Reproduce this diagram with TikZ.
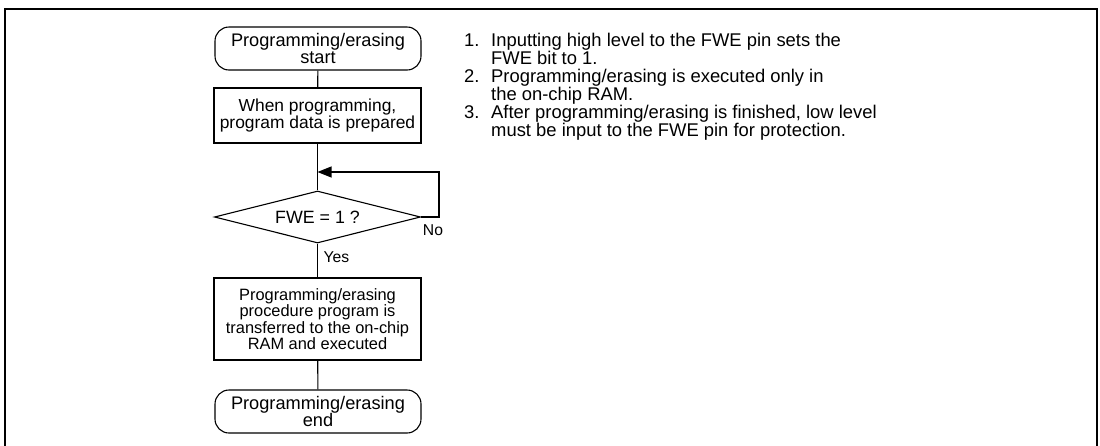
\documentclass[tikz,border=0pt]{standalone}
\usepackage{fontspec}
\setmainfont{Liberation Sans}
\usetikzlibrary{shapes.geometric,arrows.meta}
\begin{document}
\begin{tikzpicture}[x=1pt,y=-1pt,
  flow/.style={draw=black,line width=1.1pt},
  term/.style={flow,rectangle,rounded corners=14pt,minimum width=206pt,minimum height=43pt,inner sep=0pt,align=center,font=\fontsize{18.2}{16.5}\selectfont},
  procbox/.style={flow,rectangle,minimum width=207pt,inner sep=0pt,align=center},
  decision/.style={flow,diamond,shape aspect=4,minimum width=206pt,minimum height=52pt,inner sep=0pt,font=\fontsize{17.8}{18}\selectfont},
  link/.style={line width=1.1pt},
  lbl/.style={inner sep=0pt,font=\fontsize{15.7}{16}\selectfont},
  frameline/.style={line width=2.5pt}]
\useasboundingbox (0,0) rectangle (1100,445);
\draw[frameline] (5,452) -- (5,9) -- (1097,9) -- (1097,452);
\node[term] (start) at (318,48.5) {Programming/erasing\\start};
\node[procbox,minimum height=55pt,font=\fontsize{17.4}{16}\selectfont] (prep) at (317.5,115.5) {When programming,\\program data is prepared};
\coordinate (join) at (317.5,172);
\node[decision] (fwe) at (317.5,217) {FWE = 1 ?};
\coordinate (loop) at (439,172);
\node[procbox,minimum height=82pt,font=\fontsize{16.4}{16.4}\selectfont] (xfer) at (317.5,319) {Programming/erasing\\procedure program is\\transferred to the on-chip\\RAM and executed};
\node[term] (stop) at (318,411.5) {Programming/erasing\\end};
\draw[link] (start) -- (prep);
\draw[link] (prep) -- (fwe);
\draw[link,-{Triangle[length=14pt,width=11pt]}] (fwe.east) -- (fwe.east -| loop) -- (loop) -- (join);
\draw[link] (fwe) -- (xfer);
\draw[link] (xfer) -- (stop);
\node[lbl] (no) at (433,230) {No};
\node[lbl] (yes) at (336.5,257.5) {Yes};
\node[inner sep=0pt,anchor=base west,font=\fontsize{18.4}{15.8}\selectfont] (notes) at (464,46) {\begin{tabular}[t]{@{}l@{}l@{}}
\makebox[27pt][l]{1.} & Inputting high level to the FWE pin sets the\\
 & FWE bit to 1.\\
\makebox[27pt][l]{2.} & Programming/erasing is executed only in\\
 & the on-chip RAM.\\
\makebox[27pt][l]{3.} & After programming/erasing is finished, low level\\
 & must be input to the FWE pin for protection.
\end{tabular}};
\end{tikzpicture}
\end{document}
